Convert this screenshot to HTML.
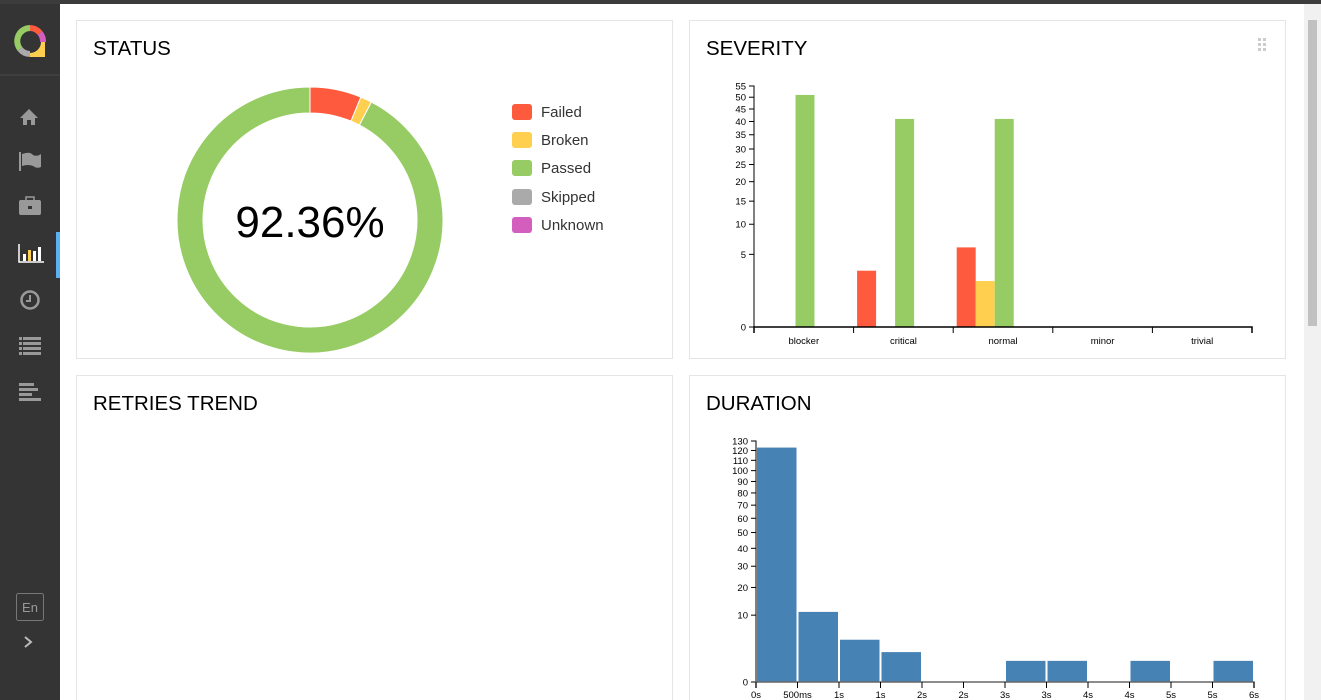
<!DOCTYPE html>
<html><head><meta charset="utf-8">
<style>
*{box-sizing:border-box;margin:0;padding:0}
html,body{width:1321px;height:700px;overflow:hidden}
body{background:#fff;font-family:"Liberation Sans",Arial,sans-serif;position:relative}
#topbar{position:absolute;left:0;top:0;width:1321px;height:4px;background:#3c3c3c}
#side{position:absolute;left:0;top:4px;width:60px;height:696px;background:#343434}
.card{position:absolute;border:1px solid #e5e5e5;background:#fff}
.card h2{position:absolute;left:16px;top:16px;font-weight:normal;font-size:20.5px;color:#000}
#scroll{position:absolute;left:1304px;top:4px;width:17px;height:696px;background:#f1f1f1}
#thumb{position:absolute;left:1304px;top:20px;width:17px;height:306px;background:#c1c1c1;border:4px solid #f1f1f1;border-top:0;border-bottom:0}
.leg{position:absolute;left:435px;font-size:15px;color:#333;white-space:nowrap}
.leg span{display:inline-block;width:20px;height:16px;border-radius:3px;vertical-align:-3px;margin-right:9px}
</style></head><body>
<div id="topbar"></div>
<div id="side">
<svg width="60" height="696">
 <g transform="translate(30,37)">
  <path d="M0,-13 A13,13 0 0 1 10,-8" stroke="#fd5a3e" stroke-width="6" fill="none"/>
  <path d="M10,-8 A13,13 0 0 1 13,1" stroke="#d35ebe" stroke-width="6" fill="none"/>
  <path d="M13,1 L13,14 L0,14 A13,13 0 0 0 13,1" fill="#ffd050" stroke="#ffd050" stroke-width="4"/>
  <path d="M0,13 A13,13 0 0 1 -10,8" stroke="#aaa" stroke-width="6" fill="none"/>
  <path d="M-10,8 A13,13 0 0 1 0,-13" stroke="#97cc64" stroke-width="6" fill="none"/>
 </g>
 <line x1="0" y1="71" x2="60" y2="71" stroke="#4a4a4a"/>
 <path d="M20,114 L29,105 L38,114 L35,114 L35,121 L31,121 L31,116 L27,116 L27,121 L23,121 L23,114Z" fill="#999"/>
 <g><rect x="19" y="148" width="2" height="19" fill="#999"/><path d="M22,150 Q30,147 33,151 Q37,153 41,150 L41,163 Q37,165 33,162 Q28,160 22,162Z" fill="#999"/></g>
 <g><rect x="19" y="196" width="22" height="15" rx="2" fill="#999"/><rect x="26" y="193" width="8" height="4" fill="none" stroke="#999" stroke-width="1.5"/><rect x="28" y="202" width="4" height="3" fill="#343434"/></g>
 <g><path d="M19,240 L19,258 L44,258" stroke="#fff" stroke-width="1.5" fill="none"/><rect x="23" y="250" width="3" height="7" fill="#fff"/><rect x="28" y="246" width="3" height="11" fill="#ffd050"/><rect x="33" y="247" width="3" height="10" fill="#fff"/><rect x="38" y="243" width="3" height="14" fill="#fff"/></g>
 <rect x="56" y="228" width="4" height="46" fill="#5ab0f0"/>
 <g><circle cx="30" cy="296" r="8.5" stroke="#999" stroke-width="2.5" fill="none"/><path d="M30,291 L30,297 L26,297" stroke="#999" stroke-width="2" fill="none"/></g>
 <g fill="#999"><rect x="19" y="333" width="3" height="3"/><rect x="23" y="333" width="18" height="3"/><rect x="19" y="338" width="3" height="3"/><rect x="23" y="338" width="18" height="3"/><rect x="19" y="343" width="3" height="3"/><rect x="23" y="343" width="18" height="3"/><rect x="19" y="348" width="3" height="3"/><rect x="23" y="348" width="18" height="3"/></g>
 <g fill="#999"><rect x="19" y="379" width="15" height="3"/><rect x="19" y="384" width="19" height="3"/><rect x="19" y="389" width="13" height="3"/><rect x="19" y="394" width="22" height="3"/></g>
 <g><rect x="16.5" y="589.5" width="27" height="27" rx="2" stroke="#777" fill="none"/><text x="30" y="608" font-size="13" fill="#999" text-anchor="middle" font-family="Liberation Sans">En</text></g>
 <path d="M25,633 L31,638 L25,643" stroke="#bbb" stroke-width="2" fill="none"/>
</svg>
</div>

<div class="card" style="left:76px;top:20px;width:597px;height:339px">
 <h2>STATUS</h2>
 <svg id="pie" width="597" height="339" style="position:absolute;left:0;top:0"></svg>
 <div class="leg" style="top:83px"><span style="background:#fd5a3e"></span>Failed</div>
 <div class="leg" style="top:111px"><span style="background:#ffd050"></span>Broken</div>
 <div class="leg" style="top:139px"><span style="background:#97cc64"></span>Passed</div>
 <div class="leg" style="top:168px"><span style="background:#aaa"></span>Skipped</div>
 <div class="leg" style="top:196px"><span style="background:#d35ebe"></span>Unknown</div>
</div>

<div class="card" style="left:689px;top:20px;width:597px;height:339px">
 <h2>SEVERITY</h2>
 <svg width="10" height="14" style="position:absolute;left:568px;top:17px"><g fill="#ccc"><rect x="0" y="0" width="3" height="3"/><rect x="5" y="0" width="3" height="3"/><rect x="0" y="5" width="3" height="3"/><rect x="5" y="5" width="3" height="3"/><rect x="0" y="10" width="3" height="3"/><rect x="5" y="10" width="3" height="3"/></g></svg>
</div>
<svg id="sev" width="600" height="300" style="position:absolute;left:689px;top:60px"></svg>

<div class="card" style="left:76px;top:375px;width:597px;height:340px">
 <h2>RETRIES TREND</h2>
</div>
<div class="card" style="left:689px;top:375px;width:597px;height:340px">
 <h2>DURATION</h2>
</div>
<svg id="dur" width="600" height="280" style="position:absolute;left:689px;top:420px"></svg>

<div id="scroll"></div>
<div id="thumb"></div>

<script>
const NS="http://www.w3.org/2000/svg";
function mk(p,t,a){const e=document.createElementNS(NS,t);for(const k in a)e.setAttribute(k,a[k]);p.appendChild(e);return e;}

// ---- Status donut data
const statusNames=["failed","broken","passed","skipped","unknown"];
const statusCounts=[9,2,133,0,0];
const statusColors=["#fd5a3e","#ffd050","#97cc64","#aaa","#d35ebe"];
(function(){
 const svg=document.getElementById('pie');const cx=233,cy=199,R=133,r=107;
 const total=statusCounts.reduce((a,b)=>a+b,0);let a0=0;
 statusCounts.forEach((v,i)=>{if(!v)return;const a1=a0+v/total*2*Math.PI;
  const p=(rad,a)=>[cx+rad*Math.sin(a),cy-rad*Math.cos(a)];const lg=(a1-a0)>Math.PI?1:0;
  const [x0,y0]=p(R,a0),[x1,y1]=p(R,a1),[x2,y2]=p(r,a1),[x3,y3]=p(r,a0);
  const el=mk(svg,'path',{d:`M${x0},${y0}A${R},${R} 0 ${lg} 1 ${x1},${y1}L${x2},${y2}A${r},${r} 0 ${lg} 0 ${x3},${y3}Z`,fill:statusColors[i],stroke:'#fff','stroke-width':1});
  
  
  a0=a1;});
 const t=mk(svg,'text',{x:cx,y:cy+17,'font-size':44,'text-anchor':'middle',fill:'#000','font-family':'Liberation Sans'});
 t.textContent=(statusCounts[2]/total*100).toFixed(2)+'%';
 
 
})();

// ---- Severity data
const sevCategories=["blocker","critical","normal","minor","trivial"];
const sevFailed=[0,3,6,0,0];
const sevBroken=[0,0,2,0,0];
const sevPassed=[51,41,41,0,0];
const sevSkipped=[0,0,0,0,0];
const sevUnknown=[0,0,0,0,0];
const sevTicks=[0,5,10,15,20,25,30,35,40,45,50,55];
(function(){
 const svg=document.getElementById('sev');const ox=65,y0=267,H=241,max=55,bw=99.6;
 const y=v=>y0-H*Math.sqrt(v/max);
 const series=[sevFailed,sevBroken,sevPassed,sevSkipped,sevUnknown];
 series.forEach((s,si)=>s.forEach((v,ci)=>{if(!v)return;
  const b=mk(svg,'rect',{x:ox+ci*bw+3.5+si*19,y:y(v),width:19,height:y0-y(v),fill:statusColors[si]});
  
  }));
 mk(svg,'path',{d:`M${ox-5},${y(max)}H${ox}V${y0}H${ox-5}`,stroke:'#000',fill:'none'});
 sevTicks.forEach(v=>{mk(svg,'line',{x1:ox-5,x2:ox,y1:y(v),y2:y(v),stroke:'#000'});
  const t=mk(svg,'text',{x:ox-8,y:y(v)+3.5,'font-size':9.5,'text-anchor':'end','font-family':'Liberation Sans'});t.textContent=v;
  
  });
 mk(svg,'path',{d:`M${ox},${y0+6}V${y0}H${ox+5*bw}V${y0+6}`,stroke:'#000',fill:'none','stroke-width':1.5});
 sevCategories.forEach((c,i)=>{mk(svg,'line',{x1:ox+i*bw,x2:ox+i*bw,y1:y0,y2:y0+6,stroke:'#000'});
  const t=mk(svg,'text',{x:ox+i*bw+bw/2,y:y0+17,'font-size':9.5,'text-anchor':'middle','font-family':'Liberation Sans'});t.textContent=c;
  
  });
})();

// ---- Duration data
const durCounts=[123,11,4,2,0,0,1,1,0,1,0,1];
const durTickLabels=["0s","500ms","1s","1s","2s","2s","3s","3s","4s","4s","5s","5s","6s"];
const durYTicks=[0,10,20,30,40,50,60,70,80,90,100,110,120,130];
(function(){
 const svg=document.getElementById('dur');const ox=67,y0=262,H=241,max=130,bw=(1254-756)/12;
 const y=v=>y0-H*Math.sqrt(v/max);
 durCounts.forEach((v,i)=>{if(!v)return;
  const b=mk(svg,'rect',{x:ox+i*bw+1,y:y(v),width:bw-2,height:y0-y(v),fill:'#4682b4'});
  
  });
 mk(svg,'path',{d:`M${ox-5},${y(max)}H${ox}V${y0}H${ox-5}`,stroke:'#000',fill:'none'});
 durYTicks.forEach(v=>{mk(svg,'line',{x1:ox-5,x2:ox,y1:y(v),y2:y(v),stroke:'#000'});
  const t=mk(svg,'text',{x:ox-8,y:y(v)+3.5,'font-size':9.5,'text-anchor':'end','font-family':'Liberation Sans'});t.textContent=v;
  
  });
 mk(svg,'path',{d:`M${ox},${y0+6}V${y0}H${ox+12*bw}V${y0+6}`,stroke:'#666',fill:'none','stroke-width':1.5});
 durTickLabels.forEach((c,i)=>{mk(svg,'line',{x1:ox+i*bw,x2:ox+i*bw,y1:y0,y2:y0+6,stroke:'#000'});
  const t=mk(svg,'text',{x:ox+i*bw,y:y0+16,'font-size':9.5,'text-anchor':'middle','font-family':'Liberation Sans'});t.textContent=c;
  
  });
})();
</script>
</body></html>
